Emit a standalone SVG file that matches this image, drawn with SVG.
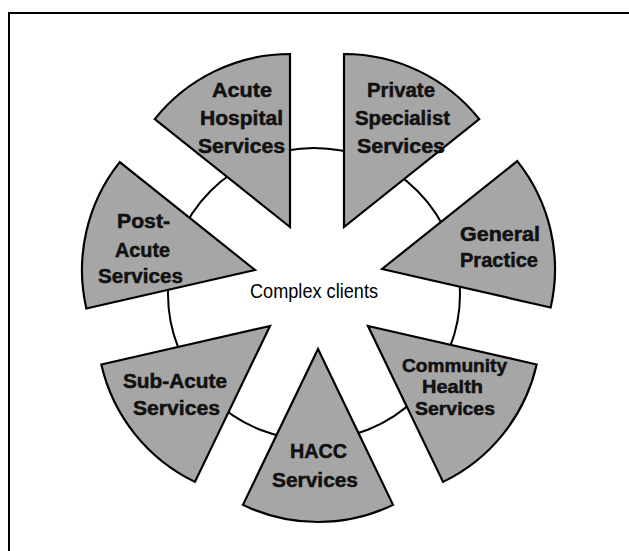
<svg xmlns="http://www.w3.org/2000/svg" width="629" height="551" viewBox="0 0 629 551">
<style>
.frame{fill:none;stroke:#000;stroke-width:2}
.ring{fill:#fff;stroke:#000;stroke-width:2}
.wedge{fill:#a6a6a6;stroke:#000;stroke-width:2.2;stroke-linejoin:miter}
.lbl{font-family:"Liberation Sans",Arial,sans-serif;font-weight:bold;font-size:20px;fill:#111;stroke:#111;stroke-width:0.5;text-anchor:middle}
.small{font-size:18px}
.center{font-family:"Liberation Sans",Arial,sans-serif;font-size:21px;fill:#000;text-anchor:middle}
</style>
<rect width="629" height="551" fill="#fff"/>
<polyline class="frame" points="9,551 9,13 629,13"/>
<g id="connectors"/>
<g id="complex-clients">
<circle class="ring" cx="314" cy="294" r="146"/>
<text class="center" x="314" y="298" textLength="128" lengthAdjust="spacingAndGlyphs">Complex clients</text>
</g>
<g id="private-specialist">
<path class="wedge" d="M344,227 L344,54 A173,173 0 0 1 479.26,119.14 Z"/>
<text class="lbl" x="401" y="97" textLength="68" lengthAdjust="spacingAndGlyphs">Private</text>
<text class="lbl" x="402.5" y="125" textLength="95" lengthAdjust="spacingAndGlyphs">Specialist</text>
<text class="lbl" x="401" y="153" textLength="88" lengthAdjust="spacingAndGlyphs">Services</text>
</g>
<g id="general-practice">
<path class="wedge" d="M382,269 L517.26,161.14 A173,173 0 0 1 550.66,307.5 Z"/>
<text class="lbl" x="500" y="241" textLength="80" lengthAdjust="spacingAndGlyphs">General</text>
<text class="lbl" x="499" y="267" textLength="78" lengthAdjust="spacingAndGlyphs">Practice</text>
</g>
<g id="community-health">
<path class="wedge" d="M368,326 L536.66,364.5 A173,173 0 0 1 443.06,481.87 Z"/>
<text class="lbl small" x="454.5" y="372" textLength="105" lengthAdjust="spacingAndGlyphs">Community</text>
<text class="lbl small" x="452.5" y="393" textLength="61" lengthAdjust="spacingAndGlyphs">Health</text>
<text class="lbl small" x="455" y="415" textLength="80" lengthAdjust="spacingAndGlyphs">Services</text>
</g>
<g id="hacc">
<path class="wedge" d="M318,349 L393.06,504.87 A173,173 0 0 1 242.94,504.87 Z"/>
<text class="lbl" x="318.5" y="458" textLength="57" lengthAdjust="spacingAndGlyphs">HACC</text>
<text class="lbl" x="315" y="487" textLength="86" lengthAdjust="spacingAndGlyphs">Services</text>
</g>
<g id="sub-acute">
<path class="wedge" d="M270,326 L194.94,481.87 A173,173 0 0 1 101.34,364.5 Z"/>
<text class="lbl" x="175" y="388" textLength="104" lengthAdjust="spacingAndGlyphs">Sub-Acute</text>
<text class="lbl" x="176.5" y="415" textLength="87" lengthAdjust="spacingAndGlyphs">Services</text>
</g>
<g id="post-acute">
<path class="wedge" d="M255,270 L86.34,308.5 A173,173 0 0 1 119.74,162.14 Z"/>
<text class="lbl" x="143.5" y="228" textLength="53" lengthAdjust="spacingAndGlyphs">Post-</text>
<text class="lbl" x="142.5" y="257" textLength="55" lengthAdjust="spacingAndGlyphs">Acute</text>
<text class="lbl" x="140.5" y="283" textLength="85" lengthAdjust="spacingAndGlyphs">Services</text>
</g>
<g id="acute-hospital">
<path class="wedge" d="M290,227 L154.74,119.14 A173,173 0 0 1 290,54 Z"/>
<text class="lbl" x="242" y="97" textLength="60" lengthAdjust="spacingAndGlyphs">Acute</text>
<text class="lbl" x="241.5" y="125" textLength="83" lengthAdjust="spacingAndGlyphs">Hospital</text>
<text class="lbl" x="241.5" y="153" textLength="87" lengthAdjust="spacingAndGlyphs">Services</text>
</g>
</svg>
